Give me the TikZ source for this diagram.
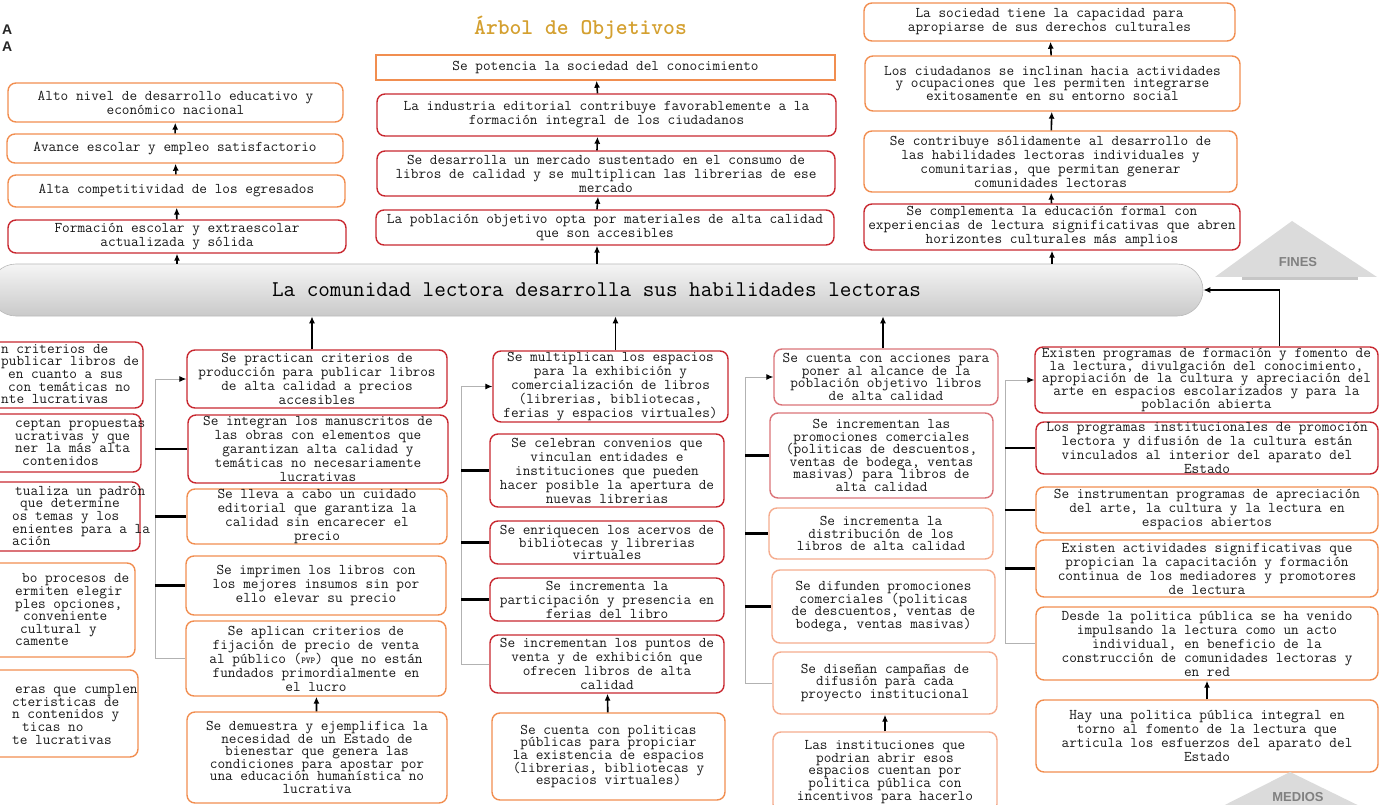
\documentclass[tikz,border=0pt]{standalone}
\usepackage{fontspec}
\newfontfamily\rotulo{Liberation Sans}
\usetikzlibrary{arrows.meta}
\lineskiplimit=-30pt
\definecolor{rojo}{RGB}{200,40,48}
\definecolor{naranja}{RGB}{241,142,80}
\definecolor{rosa}{RGB}{218,115,120}
\definecolor{salmon}{RGB}{245,172,142}
\definecolor{dorado}{RGB}{212,160,48}
\tikzset{
  caja/.style={draw, line width=1.4pt, rounded corners=8pt, align=center,
               inner sep=0pt, text=black!90, font=\ttfamily\fontsize{14.86}{14}\selectfont},
  junta/.style={font=\ttfamily\fontsize{14.86}{12.6}\selectfont},
  tam/.style 2 args={minimum width=#1pt, minimum height=#2pt},
  flecha/.style={-{Latex[length=7pt,width=6pt]}, line width=1.6pt},
  ramal/.style={draw=gray!60, line width=1pt, -{Latex[length=7pt,width=6pt,color=black]}},
  rama/.style={line width=2.2pt},
  corte/.style={anchor=west, align=left, inner sep=0pt, text=black!90,
                font=\ttfamily\fontsize{14.86}{12.6}\selectfont},
  barra/.style={draw=gray!55, line width=0.6pt, rounded corners=26pt,
                top color=gray!8, bottom color=gray!42, text=black,
                font=\ttfamily\fontsize{22.5}{24}\selectfont},
  etiqueta/.style={font=\rotulo\bfseries\fontsize{13}{13}\selectfont, text=black!50}
}
\begin{document}
\begin{tikzpicture}[x=1pt,y=-1pt]
  \useasboundingbox (0,0) rectangle (1382,805);
  \clip (0,0) rectangle (1382,805);

  % titulo
  \node[font=\ttfamily\bfseries\fontsize{22.5}{24}\selectfont, text=dorado] (titulo) at (580.5,28) {Árbol de Objetivos};
  \node[anchor=west, align=left, inner sep=0pt, text=black!85,
        font=\rotulo\bfseries\fontsize{14}{17}\selectfont] (marca) at (2,38) {A\\A};

  % fines
  \node[caja, draw=naranja, tam={335}{39}] (f1) at (175.5,102.5) {Alto nivel de desarrollo educativo y\\económico nacional};
  \node[caja, draw=naranja, tam={336}{29}] (f2) at (175,148.5) {Avance escolar y empleo satisfactorio};
  \node[caja, draw=naranja, tam={337}{32}] (f3) at (176.5,191) {Alta competitividad de los egresados};
  \node[caja, draw=rojo, tam={338}{33}] (f4) at (177,236.5) {Formación escolar y extraescolar\\actualizada y sólida};

  \node[caja, sharp corners, draw=naranja, tam={459}{25}] (c1) at (605.5,67.5) {Se potencia la sociedad del conocimiento};
  \node[caja, draw=rojo, tam={459}{42}] (c2) at (606.5,115) {La industria editorial contribuye favorablemente a la\\formación integral de los ciudadanos};
  \node[caja, draw=rojo, tam={458}{45}] (c3) at (606,173.5) {Se desarrolla un mercado sustentado en el consumo de\\libros de calidad y se multiplican las librerias de ese\\mercado};
  \node[caja, draw=rojo, tam={458}{35}] (c4) at (605,227.5) {La población objetivo opta por materiales de alta calidad\\que son accesibles};

  \node[caja, draw=naranja, tam={371}{38}] (d1) at (1049.5,22) {La sociedad tiene la capacidad para\\apropiarse de sus derechos culturales};
  \node[caja, junta, draw=naranja, tam={375}{55}] (d2) at (1052.5,83.5) {Los ciudadanos se inclinan hacia actividades\\y ocupaciones que les permiten integrarse\\exitosamente en su entorno social};
  \node[caja, draw=naranja, tam={373}{61}] (d3) at (1050.5,161.5) {Se contribuye sólidamente al desarrollo de\\las habilidades lectoras individuales y\\comunitarias, que permitan generar\\comunidades lectoras};
  \node[caja, draw=rojo, tam={376}{46}] (d4) at (1052,227) {Se complementa la educación formal con\\experiencias de lectura significativas que abren\\horizontes culturales más amplios};

  \fill[gray!28] (1215,277) -- (1292,221) -- (1377,277) -- cycle;
  \fill[gray!45] (1242,277) rectangle (1358,280);
  \node[etiqueta] (fines) at (1298,262) {FINES};

  % problema central
  \node[barra, tam={1213}{52}] (bar) at (596.5,290) {La comunidad lectora desarrolla sus habilidades lectoras};

  % medios
  \node[caja, draw=rojo, tam={203}{66}] (l1) at (41.5,375) {};
  \node[caja, draw=rojo, tam={201}{58}] (l2) at (40.5,443) {};
  \node[caja, draw=rojo, tam={200}{69}] (l3) at (40,516.5) {};
  \node[caja, draw=naranja, tam={195}{94}] (l4) at (37.5,610) {};
  \node[caja, draw=naranja, tam={198}{87}] (l5) at (39,713.5) {};
  \node[corte] (l1t) at (1,374) {n criterios de\\publicar libros de\\\hspace*{7pt}en cuanto a sus\\\hspace*{7pt}con temáticas no\\nte lucrativas};
  \node[corte] (l2t) at (15,442.5) {ceptan propuestas\\ucrativas y que\\ner la más alta\\\hspace*{7pt}contenidos};
  \node[corte] (l3t) at (12,516) {\hspace*{3pt}tualiza un padrón\\\hspace*{8pt}que determine\\os temas y los\\enientes para a la\\ación};
  \node[corte] (l4t) at (15,610) {\hspace*{7pt}bo procesos de\\ermiten elegir\\ples opciones,\\\hspace*{8pt}conveniente\\\hspace*{5pt}cultural y\\camente};
  \node[corte] (l5t) at (12,714.5) {\hspace*{3pt}eras que cumplen\\cteristicas de\\n contenidos y\\\hspace*{10pt}ticas no\\te lucrativas};

  \node[caja, draw=rojo, tam={260}{58}] (m1) at (317,379) {Se practican criterios de\\producción para publicar libros\\de alta calidad a precios\\accesibles};
  \node[caja, draw=rojo, tam={260}{68}] (m2) at (318,449) {Se integran los manuscritos de\\las obras con elementos que\\garantizan alta calidad y\\temáticas no necesariamente\\lucrativas};
  \node[caja, draw=naranja, tam={260}{55}] (m3) at (317,516.5) {Se lleva a cabo un cuidado\\editorial que garantiza la\\calidad sin encarecer el\\precio};
  \node[caja, draw=naranja, tam={260}{59}] (m4) at (316,585.5) {Se imprimen los libros con\\los mejores insumos sin por\\ello elevar su precio};
  \node[caja, draw=naranja, tam={260}{75}] (m5) at (316,658.5) {Se aplican criterios de\\fijación de precio de venta\\al público ({\fontsize{9}{9}\selectfont\bfseries PVP}) que no están\\fundados primordialmente en\\el lucro};
  \node[caja, junta, draw=naranja, tam={260}{91}] (m6) at (317,757.5) {Se demuestra y ejemplifica la\\necesidad de un Estado de\\bienestar que genera las\\condiciones para apostar por\\una educación humanística no\\lucrativa};

  \node[caja, draw=rojo, tam={235}{71}] (n1) at (610.5,386.5) {Se multiplican los espacios\\para la exhibición y\\comercialización de libros\\(librerias, bibliotecas,\\ferias y espacios virtuales)};
  \node[caja, draw=rojo, tam={234}{73}] (n2) at (607,470.5) {Se celebran convenios que\\vinculan entidades e\\instituciones que pueden\\hacer posible la apertura de\\nuevas librerias};
  \node[caja, junta, draw=rojo, tam={234}{43}] (n3) at (607,542.5) {Se enriquecen los acervos de\\bibliotecas y librerias\\virtuales};
  \node[caja, draw=rojo, tam={234}{43}] (n4) at (607,599.5) {Se incrementa la\\participación y presencia en\\ferias del libro};
  \node[caja, draw=rojo, tam={234}{58}] (n5) at (607,664) {Se incrementan los puntos de\\venta y de exhibición que\\ofrecen libros de alta\\calidad};
  \node[caja, junta, draw=naranja, tam={233}{87}] (n6) at (608.5,756.5) {Se cuenta con politicas\\públicas para propiciar\\la existencia de espacios\\(librerias, bibliotecas y\\espacios virtuales)};

  \node[caja, junta, draw=rosa, tam={224}{56}] (p1) at (886,377) {Se cuenta con acciones para\\poner al alcance de la\\población objetivo libros\\de alta calidad};
  \node[caja, junta, draw=rosa, tam={223}{85}] (p2) at (881.5,455.5) {Se incrementan las\\promociones comerciales\\(politicas de descuentos,\\ventas de bodega, ventas\\masivas) para libros de\\alta calidad};
  \node[caja, junta, draw=salmon, tam={224}{51}] (p3) at (881,533.5) {Se incrementa la\\distribución de los\\libros de alta calidad};
  \node[caja, junta, draw=salmon, tam={223}{73}] (p4) at (883.5,606.5) {Se difunden promociones\\comerciales (politicas\\de descuentos, ventas de\\bodega, ventas masivas)};
  \node[caja, junta, draw=salmon, tam={224}{62}] (p5) at (885,683) {Se diseñan campañas de\\difusión para cada\\proyecto institucional};
  \node[caja, junta, draw=salmon, tam={224}{80}] (p6) at (885,772) {Las instituciones que\\podrian abrir esos\\espacios cuentan por\\politica pública con\\incentivos para hacerlo};

  \node[caja, junta, draw=rojo, tam={343}{66}] (q1) at (1206.5,380) {Existen programas de formación y fomento de\\la lectura, divulgación del conocimiento,\\apropiación de la cultura y apreciación del\\arte en espacios escolarizados y para la\\población abierta};
  \node[caja, draw=rojo, tam={342}{52}] (q2) at (1207,448) {Los programas institucionales de promoción\\lectora y difusión de la cultura están\\vinculados al interior del aparato del\\Estado};
  \node[caja, draw=naranja, tam={342}{46}] (q3) at (1207,510) {Se instrumentan programas de apreciación\\del arte, la cultura y la lectura en\\espacios abiertos};
  \node[caja, draw=naranja, tam={342}{57}] (q4) at (1207,568.5) {Existen actividades significativas que\\propician la capacitación y formación\\continua de los mediadores y promotores\\de lectura};
  \node[caja, draw=naranja, tam={342}{73}] (q5) at (1207,643.5) {Desde la politica pública se ha venido\\impulsando la lectura como un acto\\individual, en beneficio de la\\construcción de comunidades lectoras y\\en red};
  \node[caja, draw=naranja, tam={342}{72}] (q6) at (1207,736) {Hay una politica pública integral en\\torno al fomento de la lectura que\\articula los esfuerzos del aparato del\\Estado};

  \fill[gray!28] (1205,815) -- (1290,772) -- (1378,815) -- cycle;
  \node[etiqueta] (medios) at (1298,797) {MEDIOS};

  % conectores de fines
  \path[flecha] (bar.north -| f4) edge (f4.south)
        (f4) edge (f3)
        (f3) edge (f2)
        (f2) edge (f1)
        ([xshift=-8pt]bar.north -| c4) edge ([xshift=-8pt]c4.south)
        ([xshift=-8pt]c4.north) edge ([xshift=-8pt]c3.south)
        ([xshift=-9pt]c3.north) edge ([xshift=-9pt]c2.south)
        ([xshift=-9pt]c2.north) edge ([xshift=-9pt]c1.south)
        (bar.north -| d4) edge (d4.south)
        (d4) edge (d3)
        (d3) edge (d2)
        (d2) edge (d1);

  % conectores de medios
  \path[flecha] ([xshift=-5pt]m1.north) edge ([xshift=-5pt]m1.north |- bar.south)
        ([xshift=5pt]n1.north) edge ([xshift=5pt]n1.north |- bar.south)
        ([xshift=-3pt]p1.north) edge ([xshift=-3pt]p1.north |- bar.south)
        (m6) edge (m5)
        (n6) edge (n5)
        (p6) edge (p5)
        (q6) edge (q5);
  \draw[flecha] ([xshift=73pt]q1.north) |- (bar.east);

  \coordinate (e2) at (155,0);
  \coordinate (e3) at (461,0);
  \coordinate (e4) at (745,0);
  \coordinate (e5) at (1005,0);
  \draw[ramal] (m5.west) -- (m5.west -| e2) -- (m1.west -| e2) -- (m1.west);
  \draw[ramal] (n5.west) -- (n5.west -| e3) -- (n1.west -| e3) -- (n1.west);
  \draw[ramal] (p5.west) -- (p5.west -| e4) -- (p1.west -| e4) -- (p1.west);
  \draw[ramal] (q5.west) -- (q5.west -| e5) -- (q1.west -| e5) -- (q1.west);
  \path[rama] (m2.west -| e2) edge (m2.west)
        (m3.west -| e2) edge (m3.west)
        (m4.west -| e2) edge (m4.west)
        (n2.west -| e3) edge (n2.west)
        (n3.west -| e3) edge (n3.west)
        (n4.west -| e3) edge (n4.west)
        (p2.west -| e4) edge (p2.west)
        (p3.west -| e4) edge (p3.west)
        (p4.west -| e4) edge (p4.west)
        (q2.west -| e5) edge (q2.west)
        (q3.west -| e5) edge (q3.west)
        (q4.west -| e5) edge (q4.west);
\end{tikzpicture}
\end{document}
